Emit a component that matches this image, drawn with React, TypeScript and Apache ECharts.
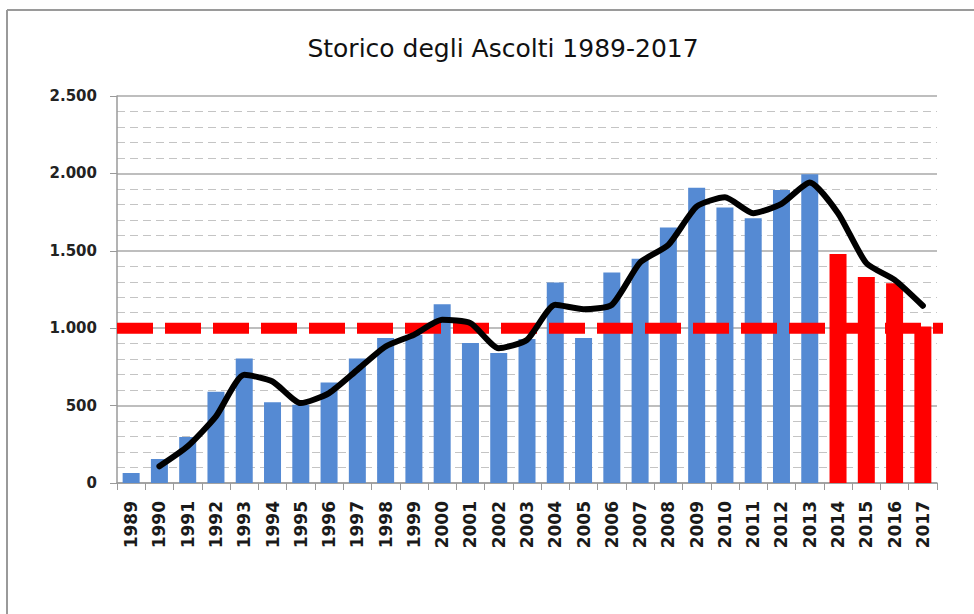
import React, { useEffect, useRef } from "react";
import * as echarts from "echarts";

const years = [
  "1989", "1990", "1991", "1992", "1993", "1994", "1995", "1996", "1997", "1998",
  "1999", "2000", "2001", "2002", "2003", "2004", "2005", "2006", "2007", "2008",
  "2009", "2010", "2011", "2012", "2013", "2014", "2015", "2016", "2017",
];
const ascolti = [
  65, 155, 297, 590, 805, 521, 505, 650, 805, 936,
  958, 1155, 904, 839, 930, 1295, 936, 1360, 1448, 1650,
  1908, 1779, 1710, 1893, 1995, 1480, 1330, 1291, 1011,
];
const mediaMobile = [
  null, 108, 237, 430, 699, 656, 516, 581, 731, 882,
  957, 1054, 1033, 871, 925, 1151, 1123, 1151, 1424, 1538,
  1786, 1846, 1743, 1803, 1941, 1743, 1420, 1312, 1145,
];
const firstRedYear = 2014;
const soglia = 1000;
const sogliaSpan = [0, 29.39];
const yTicks = [0, 500, 1000, 1500, 2000, 2500];

export default function App() {
  const ref = useRef<HTMLDivElement>(null);
  useEffect(() => {
    if (!ref.current) return;
    const chart = echarts.init(ref.current, null, { renderer: "svg" });
    const fmt = (v: number) => String(v).replace(/\B(?=(\d{3})+(?!\d))/g, ".");
    chart.setOption({
      animation: false,
      backgroundColor: "#ffffff",
      title: {
        text: "Storico degli Ascolti 1989-2017",
        left: 498,
        top: 31,
        textAlign: "center",
        textStyle: {
          fontFamily: "'Comic Sans MS', 'DejaVu Sans', sans-serif",
          fontSize: 25,
          fontWeight: "normal",
          color: "#111",
        },
      },
      graphic: [
        { type: "line", shape: { x1: 7, y1: 10, x2: 974, y2: 10 }, style: { stroke: "#9a9a9a", lineWidth: 2 } },
        { type: "line", shape: { x1: 7, y1: 10, x2: 7, y2: 614 }, style: { stroke: "#9a9a9a", lineWidth: 2 } },
      ],
      grid: { left: 117, right: 37, top: 96, bottom: 131 },
      xAxis: [
        {
          type: "category",
          data: years,
          boundaryGap: true,
          axisLine: { lineStyle: { color: "#9a9a9a", width: 1.5 } },
          axisTick: { show: true, length: 7, lineStyle: { color: "#9a9a9a" } },
          axisLabel: {
            rotate: 90,
            margin: 18,
            fontFamily: "'DejaVu Sans', Verdana, sans-serif",
            fontWeight: "bold",
            fontSize: 17,
            color: "#1a1a1a",
            interval: 0,
          },
        },
        {
          type: "value",
          min: 0,
          max: 29,
          show: false,
        },
      ],
      yAxis: {
        type: "value",
        min: yTicks[0],
        max: yTicks[yTicks.length - 1],
        interval: 500,
        axisLine: { show: true, lineStyle: { color: "#9a9a9a", width: 1.5 } },
        axisTick: { show: true, length: 7, lineStyle: { color: "#9a9a9a" } },
        axisLabel: {
          formatter: fmt,
          margin: 20,
          fontFamily: "'DejaVu Sans', Verdana, sans-serif",
          fontWeight: "bold",
          fontSize: 15,
          color: "#222",
        },
        splitLine: { show: true, lineStyle: { color: "#a8a8a8", width: 1.5 } },
        minorTick: { show: false, splitNumber: 5 },
        minorSplitLine: { show: true, lineStyle: { color: "#c4c4c4", type: [8, 5], width: 1 } },
      },
      series: [
        {
          type: "bar",
          data: ascolti.map((v, i) => ({
            value: v,
            itemStyle: { color: Number(years[i]) >= firstRedYear ? "#ff0000" : "#558ad3" },
          })),
          barWidth: 17,
          z: 2,
        },
        {
          type: "line",
          xAxisIndex: 1,
          data: [
            [sogliaSpan[0], soglia],
            [sogliaSpan[1], soglia],
          ],
          clip: false,
          symbol: "none",
          lineStyle: { color: "#ff0000", width: 11, type: [36, 12], cap: "butt" },
          z: 3,
        },
        {
          type: "line",
          data: mediaMobile,
          symbol: "none",
          smooth: 0.2,
          connectNulls: false,
          lineStyle: { color: "#000000", width: 6, join: "round", cap: "round" },
          z: 4,
        },
      ],
    });
    return () => chart.dispose();
  }, []);
  return (
    <div
      ref={ref}
      style={{ position: "absolute", left: 0, top: 0, width: 974, height: 614, background: "#fff" }}
    />
  );
}
